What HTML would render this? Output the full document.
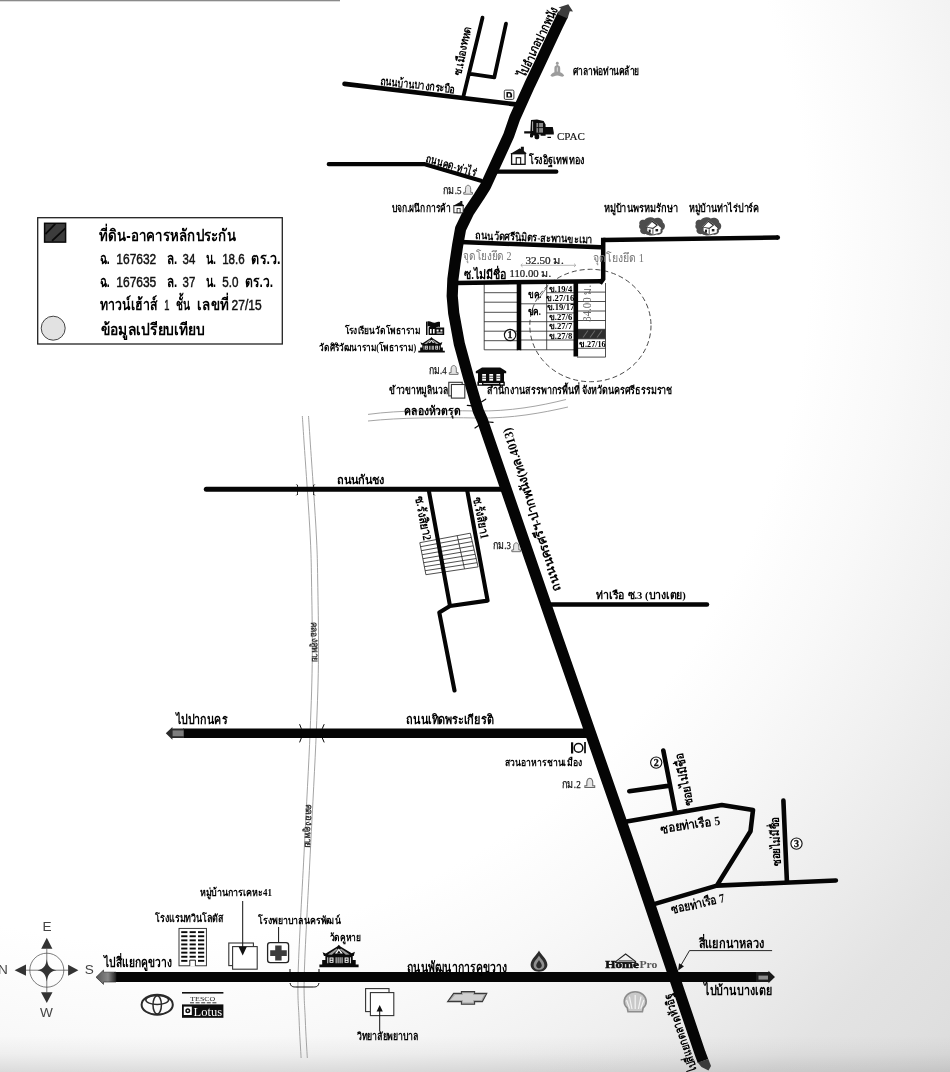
<!DOCTYPE html>
<html lang="th"><head><meta charset="utf-8"><title>แผนที่สังเขป</title>
<style>
html,body{margin:0;padding:0;background:#fff}
body{width:950px;height:1072px;overflow:hidden;font-family:"Liberation Sans",sans-serif}
svg{display:block;filter:grayscale(1) blur(0.3px)}
svg text{font-family:"Liberation Sans",sans-serif}
svg text.sf{font-family:"Liberation Serif",serif}
</style></head><body>
<svg width="950" height="1072" viewBox="0 0 950 1072">
<defs>

<radialGradient id="bg" gradientUnits="userSpaceOnUse" cx="0" cy="0" r="1" gradientTransform="translate(150 250) scale(1120 1176)">
<stop offset="0.000" stop-color="#fff"/><stop offset="0.589" stop-color="#fff"/><stop offset="0.670" stop-color="#f9f9f9"/><stop offset="0.759" stop-color="#f1f1f1"/><stop offset="0.830" stop-color="#eaeaea"/><stop offset="0.893" stop-color="#e3e3e3"/><stop offset="0.946" stop-color="#e0e0e0"/><stop offset="1.000" stop-color="#dcdcdc"/>
</radialGradient>
<linearGradient id="bot" x1="0" x2="0" y1="0" y2="1"><stop offset="0" stop-color="#000" stop-opacity="0"/><stop offset="0.5" stop-color="#000" stop-opacity="0.035"/><stop offset="1" stop-color="#000" stop-opacity="0.11"/></linearGradient>
<linearGradient id="arrL" x1="0" x2="1" y1="0" y2="0"><stop offset="0" stop-color="#555"/><stop offset="0.6" stop-color="#888"/><stop offset="1" stop-color="#222"/></linearGradient>
<pattern id="hatch" width="5" height="5" patternUnits="userSpaceOnUse" patternTransform="rotate(-45)"><rect width="5" height="5" fill="#1c1c1c"/><rect width="5" height="1.2" fill="#555"/></pattern>
</defs>
<rect width="950" height="1072" fill="url(#bg)"/>
<rect x="0" y="1036" width="950" height="36" fill="url(#bot)"/>
<rect x="0" y="0" width="340" height="1.3" fill="#8a8a8a"/>
<g fill="none" stroke="#9a9a9a" stroke-width="0.9">
<path d="M302.3,416.0 C302.6,420.0 303.1,427.8 303.9,440.0 C304.7,452.2 306.2,472.7 307.3,489.4 C308.4,506.1 309.7,524.9 310.4,540.0 C311.1,555.1 311.2,560.8 311.5,580.0 C311.8,599.2 312.5,629.7 312.3,655.0 C312.1,680.3 311.4,700.1 310.1,732.0 C308.8,763.9 306.4,806.7 304.4,846.5 C302.4,886.3 299.1,941.8 298.2,970.7 C297.3,999.6 298.6,1005.5 299.1,1020.0 C299.6,1034.5 300.8,1051.7 301.1,1058.0"/>
<path d="M308.5,416.0 C308.8,420.0 309.3,427.8 310.1,440.0 C310.9,452.2 312.4,472.7 313.5,489.4 C314.6,506.1 315.9,524.9 316.6,540.0 C317.3,555.1 317.4,560.8 317.7,580.0 C318.0,599.2 318.7,629.7 318.5,655.0 C318.3,680.3 317.6,700.1 316.3,732.0 C315.0,763.9 312.6,806.7 310.6,846.5 C308.6,886.3 305.3,941.8 304.4,970.7 C303.5,999.6 304.8,1005.5 305.3,1020.0 C305.8,1034.5 307.0,1051.7 307.3,1058.0"/>
<path d="M368,414.4 C400,410 440,410.4 476,411 C510,411.5 540,406 566,399.5"/>
<path d="M368,421 C400,417.6 440,417.3 478,418 C512,418.5 542,413 568,407"/>
</g>
<g fill="none" stroke="#222" stroke-width="0.8">
<path d="M484.2,283 V349.8 M484.2,292.7 H518 M484.2,302.2 H518 M484.2,312.3 H518 M484.2,321.7 H518 M484.2,331.2 H518 M484.2,340.7 H518 M484.2,349.8 H518"/>
<path d="M546.7,283 V349.8 M546.7,292.7 H575 M546.7,303.4 H575 M546.7,312.9 H575 M546.7,321.7 H575 M546.7,331.2 H575 M546.7,340 H575 M546.7,349.8 H575 M520,303.8 H546.7 M520,321.7 H546.7 M520,331.2 H546.7 M520,340 H546.7 M520,349.8 H546.7"/>
<path d="M605.5,283 V357.1 M577,292.1 H605.5 M577,301.5 H605.5 M577,311 H605.5 M577,320.5 H605.5 M577,329.3 H605.5 M577,338.8 H605.5 M577,348.3 H605.5 M577,357.1 H605.5"/>
</g>
<rect x="578" y="329.3" width="27.5" height="9.5" fill="#2e2e2e"/>
<path d="M583,337.5 l5,-7 M590,337.5 l5,-7 M597,337.5 l5,-7" stroke="#666" stroke-width="1.1" fill="none"/>
<path d="M537.8,300 L547.5,286.5" stroke="#333" stroke-width="0.6" fill="none"/>
<path d="M521,265.3 H575.6 M522.6,263.6 L520.8,265.3 L522.6,267 M574,263.6 L575.8,265.3 L574,267" stroke="#8a8a8a" stroke-width="0.6" fill="none"/>
<path d="M419.8,542.7 L470.3,533.2 M420.6,546.7 L471.3,537.4 M421.3,550.7 L472.2,541.6 M422.1,554.7 L473.2,545.8 M422.9,558.7 L474.2,550.0 M423.6,562.7 L475.2,554.3 M424.4,566.7 L476.2,558.5 M425.1,570.7 L477.1,562.7 M425.9,574.7 L478.1,566.9 M419.8,542.7 L425.9,574.7 M457.2,535.7 L464.5,568.9 M470.3,533.2 L478.1,566.9 " fill="none" stroke="#222" stroke-width="0.8"/>
<ellipse cx="590.4" cy="325.5" rx="60.6" ry="56.2" fill="none" stroke="#333" stroke-width="0.9" stroke-dasharray="5 3"/>
<g fill="none" stroke="#050505" stroke-linecap="round" stroke-linejoin="round">
<path d="M344.5,83.9 L516,104.4" stroke-width="4.6"/>
<path d="M482.5,17.7 L463.5,96 M506,23.6 L494.3,77.3 L470.5,73.8" stroke-width="3.8"/>
<path d="M328.8,164.2 L424.9,164.2 L481,180.8 M495,171.7 L556.3,171.7" stroke-width="4.3"/>
<path d="M460,242 L601,247.2 M603.2,239.9 L778,237.6 M456,282.9 L601,281.3" stroke-width="4.5" stroke-linecap="butt"/>
<path d="M603.2,237.7 V279 L600,283.5" stroke-width="4.5" stroke-linecap="butt" stroke-linejoin="miter"/>
<circle cx="777.8" cy="237.6" r="2.25" fill="#050505" stroke="none"/>
<path d="M519,283 V350.3 M575.8,283 V356.5" stroke-width="4.6" stroke-linecap="butt"/>
<path d="M206.3,489.3 H507" stroke-width="5"/>
<path d="M428.8,490.5 L450,606 M467.2,490.5 L487.6,600.6 L450,606 L439.3,612.6 L454.5,690.5" stroke-width="4.1"/>
<path d="M548,604.6 H707" stroke-width="4.5"/>
<path d="M183,733.2 H592" stroke-width="9.5" stroke-linecap="butt"/>
<path d="M114,977 H758" stroke-width="10" stroke-linecap="butt"/>
<path d="M626.7,821.4 L721.8,805 L753,810 L750.5,831.3 L716.8,885.6 M654.1,904.1 L716.8,885.6 L835.9,880.5 M663.3,750.5 L675.3,812.1 M629.3,791.3 L669.8,785.6 M783.4,800.6 L786.9,881.3" stroke-width="4.6"/>
<path d="M563.2,14 L557.7,25.3 L538,67.4 L529.6,85 L514.8,117.9 L508.7,135.5 L485.6,186 L479,196.5 L468.8,211.8 L460.6,228.7 L457.6,245.5 L455.1,262.4 L452.9,279.2 L452.2,296 L453.7,312.9 L459.3,343.7 L468.5,377.4 L478.3,411 L482.5,420.5 L522.9,537.9 L558.1,640 L596.4,750 L634.7,860 L665.8,952 L700,1053 L703,1061" stroke-width="11.2" stroke-linecap="butt"/>
</g>
<path d="M568.3,4.2 L573,11.6 L569.8,11.2 L567.5,18.5 L557.3,14 L561,8.6 L558.5,7.5 Z" fill="#3c3c3c"/>
<path d="M697.7,1062.6 L708.3,1059 L711,1066 L708.5,1070.5 L701.5,1067 Z" fill="#3a3a3a"/>
<path d="M165.8,733.3 L172.4,727 L172.4,728.6 L184,728.6 L184,738 L172.4,738 L172.4,739.8 Z" fill="#2a2a2a"/><rect x="172.6" y="730.4" width="11" height="5.8" fill="#7d7d7d"/>
<path d="M96,977.2 L103.5,970 L103.5,972.2 L116,972.2 L116,982 L103.5,982 L103.5,984.4 Z" fill="url(#arrL)" stroke="#222" stroke-width="0.6"/>
<path d="M775,977 L768.5,970.8 L768.5,972 L756,972 L756,982 L768.5,982 L768.5,983.2 Z" fill="#1a1a1a"/><rect x="758.5" y="975.6" width="9.5" height="4" fill="#8a8a8a"/>
<g fill="none" stroke="#050505" stroke-width="1">
<path d="M301.4,728.8 L299.6,724.2 M322.2,728.8 L324.2,724.2 M301.4,737.8 L299.6,742.4 M322.2,737.8 L324.2,742.4" stroke-width="1"/>
<path d="M290,969 V972 M319,969 V972 M290,983 C291,987 293,987 297,987 H312 C316,987 318,987 319,983"/>
<path d="M297.5,484.8 V495 M313.6,484.8 V495 M296.3,484.4 L297.5,485.6 M296.3,495.4 L297.5,494.2 M314.8,484.4 L313.6,485.6 M314.8,495.4 L313.6,494.2" stroke-width="0.8"/>
<path d="M481.7,401.8 L485.7,399.2 M472.4,405.9 L467.3,405.3 M488.7,422 L493.1,422.3 M478.6,425.6 L475,428" stroke-width="1.2" stroke-linecap="round"/>
</g>
<path transform="translate(463.3 184.8) scale(1.000 1.000)" d="M0.4,9.4 H9.2 V7.6 H7.4 C7.4,5.6 7.6,4 7.2,2.6 C6.8,1.2 5.8,0.5 4.8,0.5 C3.8,0.5 2.8,1.2 2.4,2.6 C2,4 2.2,5.6 2.2,7.6 H0.4 Z" fill="#e4e4e4" stroke="#666" stroke-width="0.9"/>
<path transform="translate(448.9 365) scale(1.000 1.000)" d="M0.4,9.4 H9.2 V7.6 H7.4 C7.4,5.6 7.6,4 7.2,2.6 C6.8,1.2 5.8,0.5 4.8,0.5 C3.8,0.5 2.8,1.2 2.4,2.6 C2,4 2.2,5.6 2.2,7.6 H0.4 Z" fill="#e4e4e4" stroke="#666" stroke-width="0.9"/>
<path transform="translate(511.4 542.3) scale(1.000 1.000)" d="M0.4,9.4 H9.2 V7.6 H7.4 C7.4,5.6 7.6,4 7.2,2.6 C6.8,1.2 5.8,0.5 4.8,0.5 C3.8,0.5 2.8,1.2 2.4,2.6 C2,4 2.2,5.6 2.2,7.6 H0.4 Z" fill="#e4e4e4" stroke="#666" stroke-width="0.9"/>
<path transform="translate(584.4 777.8) scale(1.125 1.041)" d="M0.4,9.4 H9.2 V7.6 H7.4 C7.4,5.6 7.6,4 7.2,2.6 C6.8,1.2 5.8,0.5 4.8,0.5 C3.8,0.5 2.8,1.2 2.4,2.6 C2,4 2.2,5.6 2.2,7.6 H0.4 Z" fill="#e4e4e4" stroke="#666" stroke-width="0.9"/>
<g transform="translate(510.2 146.7) scale(1.006 1.000)"><rect x="1.4" y="7" width="13.4" height="10.6" fill="#fff" stroke="#111" stroke-width="1.3"/><path d="M0,7.3 L9.6,1.6 L10.6,2.2 V0 H13.6 V4.2 L16,6.2 V7.3 Z" fill="#111"/><rect x="6" y="11" width="4.4" height="6.6" fill="#fff" stroke="#111" stroke-width="1.1"/></g>
<g transform="translate(452.9 201.1) scale(0.694 0.667)"><rect x="1.4" y="7" width="13.4" height="10.6" fill="#fff" stroke="#111" stroke-width="1.3"/><path d="M0,7.3 L9.6,1.6 L10.6,2.2 V0 H13.6 V4.2 L16,6.2 V7.3 Z" fill="#111"/><rect x="6" y="11" width="4.4" height="6.6" fill="#fff" stroke="#111" stroke-width="1.1"/></g>
<rect x="504.3" y="90.1" width="9.6" height="9.3" rx="1.3" fill="#fff" stroke="#222" stroke-width="0.9"/><path d="M506.4,92 H510 C512.4,92.4 512.6,96.8 511.6,97.6 H506.4 Z M508,93.4 V96.4 H510 C510.6,95.6 510.5,94.2 509.6,93.4 Z" fill="#111" fill-rule="evenodd"/>
<g fill="#9c9c9c"><circle cx="557.3" cy="63.2" r="1.4"/><path d="M556.4,64.2 H558.2 V65.6 C559.6,65.8 560.2,66.8 560.2,68.2 V72.2 C561.8,72.8 563.4,74 564.2,75.6 C563.6,76.8 562,77 560.4,76.2 C558.4,75.2 556.2,75.2 554.2,76.2 C552.6,77 551,76.8 550.4,75.6 C551.2,74 552.8,72.8 554.4,72.2 V68.2 C554.4,66.8 555,65.8 556.4,65.6 Z"/></g><path d="M557.3,67.4 V71.6" stroke="#e6e6e6" stroke-width="0.9"/>
<g fill="#0b0b0b"><path d="M531,120 L537,119.4 L543.6,121 L545.6,124.6 V127 H552.8 L553.8,132.6 V134.6 H545.6 V135.8 H540.6 V134.4 H538 V135.6 H531.6 V133.4 H524.2 V131.2 H530.4 Z"/><rect x="534.6" y="134" width="4.6" height="5.2" rx="1.6"/><rect x="530" y="133" width="3" height="4.4" rx="1.2"/><rect x="547.4" y="136.8" width="3.6" height="1.2"/><path d="M536.4,123 H543 V132.6 H536.4 Z" fill="#8a8a8a"/><path d="M538.6,123 V132.6 M536.4,127.6 H543" stroke="#0b0b0b" stroke-width="0.9"/><path d="M532.6,121.4 V131" stroke="#fff" stroke-width="0.7"/></g>
<text class="sf" x="556.9" y="140.3" font-size="11.2" textLength="27.9" lengthAdjust="spacingAndGlyphs" fill="#111" stroke="#111" stroke-width="0.15">CPAC</text>
<g transform="translate(638.5 216.4)"><path d="M1,8 C0,5 3,2.6 6,3.6 C8,0.6 13,0 16,2 C20,0.4 24.5,2.6 24.4,6 C27.4,7.6 27,12.4 24,13.6 C25,16.6 21.6,19 18.4,18 C15,19.6 9.6,19.4 7.4,17.6 C3.6,18.4 0.6,15.6 2,12.6 C0.4,11.6 0.2,9.4 1,8 Z" fill="#4d4d4d"/><path d="M7.6,10.4 L13.6,4 L19.2,8.2 L23.4,11.6 L22,12.6 V16 L14.4,18 L8.8,14.6 V11.2 Z" fill="#fff"/><path d="M7.2,10.8 L13.6,4 L19.6,8.6 L14.6,12.6 Z" fill="#2a2a2a"/><path d="M8.6,10.6 L13.5,5.6 L17.8,8.8 L14.4,11.4 Z" fill="#fff"/><path d="M14.4,12.8 V18 M19.8,8.6 L23.6,11.8" stroke="#222" stroke-width="0.8" fill="none"/><rect x="10.2" y="13.2" width="2" height="3" fill="#222"/><rect x="17" y="12.6" width="2.6" height="2.4" fill="#222"/></g>
<g transform="translate(694.8 216.4)"><path d="M1,8 C0,5 3,2.6 6,3.6 C8,0.6 13,0 16,2 C20,0.4 24.5,2.6 24.4,6 C27.4,7.6 27,12.4 24,13.6 C25,16.6 21.6,19 18.4,18 C15,19.6 9.6,19.4 7.4,17.6 C3.6,18.4 0.6,15.6 2,12.6 C0.4,11.6 0.2,9.4 1,8 Z" fill="#4d4d4d"/><path d="M7.6,10.4 L13.6,4 L19.2,8.2 L23.4,11.6 L22,12.6 V16 L14.4,18 L8.8,14.6 V11.2 Z" fill="#fff"/><path d="M7.2,10.8 L13.6,4 L19.6,8.6 L14.6,12.6 Z" fill="#2a2a2a"/><path d="M8.6,10.6 L13.5,5.6 L17.8,8.8 L14.4,11.4 Z" fill="#fff"/><path d="M14.4,12.8 V18 M19.8,8.6 L23.6,11.8" stroke="#222" stroke-width="0.8" fill="none"/><rect x="10.2" y="13.2" width="2" height="3" fill="#222"/><rect x="17" y="12.6" width="2.6" height="2.4" fill="#222"/></g>
<g fill="#0a0a0a"><rect x="426" y="321.6" width="1.5" height="13.4"/><path d="M427.5,321.4 C430.5,320.2 432.6,323.6 435.6,322.4 C437.4,321.6 438.6,321.4 440,322 V327.2 C438.6,326.6 437.4,326.8 435.6,327.6 C432.6,328.8 430.5,325.4 427.5,326.6 Z"/><path d="M428.6,327.6 L432.6,324.6 L436.4,327.6 H444.2 V335 H428.6 Z"/><path d="M430,329 h1.6 v4.4 h-1.6z M433,329 h1.6 v4.4 h-1.6z M436.6,329.4 h2 v2 h-2z M440.4,329.4 h2 v2 h-2z M436.6,332.4 h6 v1.2 h-6z" fill="#fff"/></g>
<g transform="translate(418.3 337.1) scale(0.671 0.692)" fill="#0a0a0a"><path d="M19.6,0 L21.2,1.6 L32.6,8.4 L35.8,7 L34.6,11.2 H33.6 V15.2 H36.6 V19.8 H39.5 V22.4 H0 V19.8 H2.8 V15.2 H6 V11.2 H4.6 L3.2,7.4 L6.4,8.8 L18,1.6 Z"/><path d="M8.6,9.8 L17.4,3.6 L18.6,4.8 L12.6,10 Z M30.6,9.8 L21.8,3.6 L20.6,4.8 L26.6,10 Z" fill="#9a9a9a"/><path d="M19.6,3.8 L23.6,8.6 H15.6 Z" fill="#fff"/><path d="M19.6,5.6 L21.6,8.6 H17.6 Z" fill="#0a0a0a"/><path d="M8,12.4 h0.9 v6 h-0.9z M10.2,12.6 h4 v5.4 h-4z M16.4,12.4 h0.9 v6 h-0.9z M18.4,12.4 h0.9 v6 h-0.9z M20.4,12.4 h0.9 v6 h-0.9z M22.4,12.4 h0.9 v6 h-0.9z M25.4,12.6 h4 v5.4 h-4z M30.8,12.4 h0.9 v6 h-0.9z" fill="#fff"/><path d="M11.2,13.6 h2 v1.4 h-2z M11.2,16 h2 v1.2 h-2z M26.4,13.6 h2 v1.4 h-2z M26.4,16 h2 v1.2 h-2z"/></g>
<g fill="#0a0a0a"><path d="M482,367.6 H500.2 L506.2,371.2 V373.2 H475.8 V371.2 Z"/><rect x="478" y="373" width="26" height="9"/><rect x="477.4" y="381.6" width="27.4" height="4.2"/><path d="M482.2,374 h3.8 v6.8 h-3.8z M489.3,374 h3.8 v6.8 h-3.8z M496.4,374 h3.8 v6.8 h-3.8z M479,383 h3 v1.6 h-3z M500.4,383 h3 v1.6 h-3z M483.4,383.2 h15.6 v0.9 h-15.6z" fill="#fff"/><path d="M482.2,376.2 h3.8 M482.2,378.4 h3.8 M489.3,376.2 h3.8 M489.3,378.4 h3.8 M496.4,376.2 h3.8 M496.4,378.4 h3.8" stroke="#0a0a0a" stroke-width="0.7"/></g>
<rect x="448.8" y="382.3" width="13.4" height="13.6" fill="#fff" stroke="#333" stroke-width="1.1"/><rect x="451.40000000000003" y="384.5" width="13.4" height="13.6" fill="#fff" stroke="#333" stroke-width="1.1"/>
<rect x="228.8" y="943" width="24.6" height="22.6" fill="#fff" stroke="#333" stroke-width="1.1"/><rect x="232.60000000000002" y="946.6" width="24.6" height="22.6" fill="#fff" stroke="#333" stroke-width="1.1"/>
<rect x="365.6" y="988.6" width="23.4" height="23" fill="#fff" stroke="#333" stroke-width="1.1"/><rect x="370.40000000000003" y="992.6" width="23.4" height="23" fill="#fff" stroke="#333" stroke-width="1.1"/>
<g stroke="#111" stroke-width="1" fill="#111"><path d="M242.7,901 V948"/><path d="M242.7,955.4 L238.6,946.8 H246.8 Z" stroke="none"/><path d="M278.6,927 V944"/><path d="M278.6,949.4 L275.6,943 H281.6 Z" stroke="none"/><path d="M379.7,1031.5 V1010"/><path d="M379.7,1005 L376.6,1011.6 H382.8 Z" stroke="none"/></g>
<rect x="267.6" y="942.6" width="21" height="20" rx="2.6" fill="#fff" stroke="#222" stroke-width="1.3"/><path d="M275.2,945.6 H281.6 V950.2 H286.8 V956 H281.6 V960.6 H275.2 V956 H270.2 V950.2 H275.2 Z" fill="#3c3c3c"/>
<rect x="179" y="928.4" width="27.4" height="37.4" fill="#fff" stroke="#222" stroke-width="0.9"/><rect x="181.2" y="931.2" width="6.2" height="1.9" fill="#0a0a0a"/><rect x="189.6" y="931.2" width="6.2" height="1.9" fill="#0a0a0a"/><rect x="198" y="931.2" width="6.2" height="1.9" fill="#0a0a0a"/><rect x="181.2" y="935.3" width="6.2" height="1.9" fill="#0a0a0a"/><rect x="189.6" y="935.3" width="6.2" height="1.9" fill="#0a0a0a"/><rect x="198" y="935.3" width="6.2" height="1.9" fill="#0a0a0a"/><rect x="181.2" y="939.4" width="6.2" height="1.9" fill="#0a0a0a"/><rect x="189.6" y="939.4" width="6.2" height="1.9" fill="#0a0a0a"/><rect x="198" y="939.4" width="6.2" height="1.9" fill="#0a0a0a"/><rect x="181.2" y="943.5" width="6.2" height="1.9" fill="#0a0a0a"/><rect x="189.6" y="943.5" width="6.2" height="1.9" fill="#0a0a0a"/><rect x="198" y="943.5" width="6.2" height="1.9" fill="#0a0a0a"/><rect x="181.2" y="947.6" width="6.2" height="1.9" fill="#0a0a0a"/><rect x="189.6" y="947.6" width="6.2" height="1.9" fill="#0a0a0a"/><rect x="198" y="947.6" width="6.2" height="1.9" fill="#0a0a0a"/><rect x="181.2" y="951.7" width="6.2" height="1.9" fill="#0a0a0a"/><rect x="189.6" y="951.7" width="6.2" height="1.9" fill="#0a0a0a"/><rect x="198" y="951.7" width="6.2" height="1.9" fill="#0a0a0a"/><rect x="181.2" y="955.8" width="6.2" height="1.9" fill="#0a0a0a"/><rect x="189.6" y="955.8" width="6.2" height="1.9" fill="#0a0a0a"/><rect x="198" y="955.8" width="6.2" height="1.9" fill="#0a0a0a"/><rect x="181.2" y="959.9" width="6.2" height="1.9" fill="#0a0a0a"/><rect x="189.6" y="959.9" width="6.2" height="1.9" fill="#0a0a0a"/><rect x="198" y="959.9" width="6.2" height="1.9" fill="#0a0a0a"/><rect x="189.8" y="960.2" width="5.6" height="6.4" fill="#fff"/><path d="M189.8,966 V960.2 H195.4 V966" fill="none" stroke="#222" stroke-width="0.9"/>
<g transform="translate(319.4 944.8) scale(0.992 1.000)" fill="#0a0a0a"><path d="M19.6,0 L21.2,1.6 L32.6,8.4 L35.8,7 L34.6,11.2 H33.6 V15.2 H36.6 V19.8 H39.5 V22.4 H0 V19.8 H2.8 V15.2 H6 V11.2 H4.6 L3.2,7.4 L6.4,8.8 L18,1.6 Z"/><path d="M8.6,9.8 L17.4,3.6 L18.6,4.8 L12.6,10 Z M30.6,9.8 L21.8,3.6 L20.6,4.8 L26.6,10 Z" fill="#9a9a9a"/><path d="M19.6,3.8 L23.6,8.6 H15.6 Z" fill="#fff"/><path d="M19.6,5.6 L21.6,8.6 H17.6 Z" fill="#0a0a0a"/><path d="M8,12.4 h0.9 v6 h-0.9z M10.2,12.6 h4 v5.4 h-4z M16.4,12.4 h0.9 v6 h-0.9z M18.4,12.4 h0.9 v6 h-0.9z M20.4,12.4 h0.9 v6 h-0.9z M22.4,12.4 h0.9 v6 h-0.9z M25.4,12.6 h4 v5.4 h-4z M30.8,12.4 h0.9 v6 h-0.9z" fill="#fff"/><path d="M11.2,13.6 h2 v1.4 h-2z M11.2,16 h2 v1.2 h-2z M26.4,13.6 h2 v1.4 h-2z M26.4,16 h2 v1.2 h-2z"/></g>
<g fill="none" stroke="#2a2a2a"><ellipse cx="157.2" cy="1004.7" rx="15.6" ry="10" stroke-width="2"/><ellipse cx="157.2" cy="1004.9" rx="4.2" ry="9.2" stroke-width="1.5"/><ellipse cx="157.2" cy="1000" rx="11.4" ry="4.4" stroke-width="1.5"/></g>
<rect x="182" y="992" width="41.4" height="1.6" fill="#111"/><text class="sf" x="202.8" y="1001.4" font-size="6.4" text-anchor="middle" textLength="25" lengthAdjust="spacingAndGlyphs" fill="#222">TESCO</text><path d="M190,1002.8 h4 m1.6,0 h4 m1.6,0 h4 m1.6,0 h4 m1.6,0 h4" stroke="#333" stroke-width="1"/><rect x="182" y="1004.4" width="41.4" height="13.4" fill="#0d0d0d"/><rect x="183.8" y="1006.6" width="8" height="8.4" fill="#fff"/><circle cx="187.8" cy="1010.8" r="2.5" fill="#0d0d0d"/><circle cx="187.8" cy="1010.8" r="1" fill="#fff"/><text class="sf" x="193.6" y="1015.6" font-size="12" textLength="28.6" lengthAdjust="spacingAndGlyphs" fill="#fff">Lotus</text>
<path d="M453.6,993.4 H461.4 V991.6 H474.6 V993.4 H486.8 L482.4,1001.6 H474.6 V1004.2 H461.4 V1001.6 H447.6 Z" fill="#a6a6a6" stroke="#3a3a3a" stroke-width="1.1"/><path d="M455,995 H462.8 V993.2 H473.2 V995 H484 L481.4,1000 H473.2 V1002.4 H462.8 V1000 H450.4 Z" fill="#cfcfcf"/>
<path d="M539,950.6 C540.6,954.4 547.4,959.2 547.4,964.8 C547.4,969 543.6,971.8 539,971.8 C534.4,971.8 530.6,969 530.6,964.8 C530.6,959.2 537.4,954.4 539,950.6 Z" fill="#2b2b2b"/><path d="M539,955.6 C540,958.2 544.4,961.4 544.4,965.2 C544.4,968 542,969.8 539,969.8 C536,969.8 533.6,968 533.6,965.2 C533.6,961.4 538,958.2 539,955.6 Z" fill="#8f8f8f"/><path d="M539,960 C539.6,961.6 541.8,963.4 541.8,965.6 C541.8,967.2 540.6,968.4 539,968.4 C537.4,968.4 536.2,967.2 536.2,965.6 C536.2,963.4 538.4,961.6 539,960 Z" fill="#2b2b2b"/>
<path d="M615.6,961.6 L625.6,954 L635.6,961.6 V962.4 H615.6 Z" fill="none" stroke="#222" stroke-width="1.1"/><path d="M618.6,960.8 H632.6" stroke="#222" stroke-width="0.8"/><text class="sf" x="605.3" y="968.3" font-size="10.8" font-weight="bold" textLength="33.6" lengthAdjust="spacingAndGlyphs" fill="#111" stroke="#111" stroke-width="0.55">Home</text><text class="sf" x="639.4" y="968.3" font-size="10.8" font-weight="bold" textLength="18" lengthAdjust="spacingAndGlyphs" fill="#555">Pro</text>
<path d="M635.2,991.8 C641.4,991.8 646.2,996.2 646.2,1001.6 C646.2,1004.4 645,1006.4 643.2,1007.8 L642.4,1011.8 H628 L627.2,1007.8 C625.4,1006.4 624.2,1004.4 624.2,1001.6 C624.2,996.2 629,991.8 635.2,991.8 Z" fill="#c9c9c9" stroke="#8d8d8d" stroke-width="1.6"/><path d="M635.2,1009 V995 M632,1009 L629.4,996.6 M638.4,1009 L641,996.6 M629.6,1008.6 L626.6,1000 M640.8,1008.6 L643.8,1000" stroke="#f4f4f4" stroke-width="1.2" fill="none"/>
<g fill="none" stroke="#0a0a0a"><circle cx="578.5" cy="747.9" r="4.3" stroke-width="1.5"/><path d="M572.1,742.3 V753.5" stroke-width="2.2"/><path d="M585,742 V753.2" stroke-width="1.7"/></g>
<g stroke="#444" stroke-width="0.7" fill="none"><circle cx="46.8" cy="970.2" r="17"/><path d="M25.8,970.2 H68.3 M46.8,948.6 V992.3"/></g><path d="M46.8,959.2 C47.8,966 50,969 56.5,970.2 C50,971.4 47.8,974.4 46.8,981.6 C45.8,974.4 43.6,971.4 37.5,970.2 C43.6,969 45.8,966 46.8,959.2 Z" fill="#333"/><path d="M46.8,937.8 L52.4,948.8 H41.2 Z M46.8,1003 L52.5,992.2 H41 Z M14.6,970.2 L26,964.6 V975.8 Z M78.4,970.2 L68.1,964.8 V975.8 Z" fill="#333"/><g font-size="13.6" fill="#444" text-anchor="middle"><text x="47" y="931">E</text><text x="46.5" y="1017">W</text><text x="3" y="974">N</text><text x="89.3" y="974">S</text></g>
<circle cx="510.1" cy="335" r="5.7" fill="#fff" stroke="#111" stroke-width="1.15"/><text class="sf" x="510.1" y="338.3" font-size="10" font-weight="bold" text-anchor="middle" fill="#111" stroke="#111" stroke-width="0.3">1</text>
<circle cx="656.2" cy="762.6" r="5.6" fill="#fff" stroke="#111" stroke-width="1.15"/><text class="sf" x="656.2" y="765.9" font-size="10" font-weight="bold" text-anchor="middle" fill="#111" stroke="#111" stroke-width="0.3">2</text>
<circle cx="796.5" cy="843.6" r="5.6" fill="#fff" stroke="#111" stroke-width="1.15"/><text class="sf" x="796.5" y="846.9" font-size="10" font-weight="bold" text-anchor="middle" fill="#111" stroke="#111" stroke-width="0.3">3</text>
<rect x="37.7" y="217.7" width="244.6" height="126.3" fill="#fff" stroke="#222" stroke-width="1.3"/>
<rect x="44.6" y="223.3" width="21" height="18.8" fill="#3c3c3c" stroke="#0a0a0a" stroke-width="1.5"/><path d="M45.4,234.2 L55.3,223.9 M52,240.9 L65.2,228.4" stroke="#0a0a0a" stroke-width="1.8" fill="none"/>
<circle cx="53.2" cy="328.2" r="12" fill="#e2e2e2" stroke="#444" stroke-width="1"/>
<text x="99.3" y="241.0" font-size="16.2" font-weight="bold" textLength="136.4" lengthAdjust="spacingAndGlyphs" fill="#000">ที่ดิน-อาคารหลักประกัน</text>
<text x="99.5" y="264.2" font-size="16.2" font-weight="bold" textLength="10.2" lengthAdjust="spacingAndGlyphs" fill="#000">ฉ.</text>
<text x="116.3" y="264.2" font-size="14.4" textLength="40.0" lengthAdjust="spacingAndGlyphs" fill="#111" stroke="#111" stroke-width="0.45">167632</text>
<text x="166.8" y="264.2" font-size="16.2" font-weight="bold" textLength="10.4" lengthAdjust="spacingAndGlyphs" fill="#000">ล.</text>
<text x="182.6" y="264.2" font-size="14.4" textLength="12.7" lengthAdjust="spacingAndGlyphs" fill="#111" stroke="#111" stroke-width="0.45">34</text>
<text x="205.8" y="264.2" font-size="16.2" font-weight="bold" textLength="10.3" lengthAdjust="spacingAndGlyphs" fill="#000">น.</text>
<text x="222.2" y="264.2" font-size="14.4" textLength="22.5" lengthAdjust="spacingAndGlyphs" fill="#111" stroke="#111" stroke-width="0.45">18.6</text>
<text x="251.1" y="264.2" font-size="16.2" font-weight="bold" textLength="29.3" lengthAdjust="spacingAndGlyphs" fill="#000">ตร.ว.</text>
<text x="99.5" y="286.5" font-size="16.2" font-weight="bold" textLength="10.2" lengthAdjust="spacingAndGlyphs" fill="#000">ฉ.</text>
<text x="116.3" y="286.5" font-size="14.4" textLength="40.0" lengthAdjust="spacingAndGlyphs" fill="#111" stroke="#111" stroke-width="0.45">167635</text>
<text x="166.8" y="286.5" font-size="16.2" font-weight="bold" textLength="10.4" lengthAdjust="spacingAndGlyphs" fill="#000">ล.</text>
<text x="182.6" y="286.5" font-size="14.4" textLength="12.7" lengthAdjust="spacingAndGlyphs" fill="#111" stroke="#111" stroke-width="0.45">37</text>
<text x="205.8" y="286.5" font-size="16.2" font-weight="bold" textLength="10.3" lengthAdjust="spacingAndGlyphs" fill="#000">น.</text>
<text x="222.2" y="286.5" font-size="14.4" textLength="16.2" lengthAdjust="spacingAndGlyphs" fill="#111" stroke="#111" stroke-width="0.45">5.0</text>
<text x="244.7" y="286.5" font-size="16.2" font-weight="bold" textLength="28.3" lengthAdjust="spacingAndGlyphs" fill="#000">ตร.ว.</text>
<text x="100.1" y="309.5" font-size="16.2" font-weight="bold" textLength="57.2" lengthAdjust="spacingAndGlyphs" fill="#000">ทาวน์เฮ้าส์</text>
<text x="164.2" y="309.5" font-size="14.4" textLength="5.2" lengthAdjust="spacingAndGlyphs" fill="#111" stroke="#111" stroke-width="0.45">1</text>
<text x="176.3" y="309.5" font-size="16.2" font-weight="bold" textLength="14.0" lengthAdjust="spacingAndGlyphs" fill="#000">ชั้น</text>
<text x="197.4" y="309.5" font-size="16.2" font-weight="bold" textLength="31.4" lengthAdjust="spacingAndGlyphs" fill="#000">เลขที่</text>
<text x="231.5" y="309.5" font-size="14.4" textLength="30.1" lengthAdjust="spacingAndGlyphs" fill="#111" stroke="#111" stroke-width="0.45">27/15</text>
<text x="100.5" y="334.8" font-size="16.2" font-weight="bold" textLength="104.2" lengthAdjust="spacingAndGlyphs" fill="#000">ข้อมูลเปรียบเทียบ</text>
<text class="sf" transform="translate(461.3 76.2) rotate(-78.6)" x="0" y="0" font-size="11.2" font-weight="bold" textLength="49.6" lengthAdjust="spacingAndGlyphs" fill="#000">ซ.เมืองทหด</text>
<text class="sf" transform="translate(525.0 78.4) rotate(-64.5)" x="0" y="0" font-size="12.4" font-weight="bold" textLength="76.6" lengthAdjust="spacingAndGlyphs" fill="#000">ไปอำเภอปากพนัง</text>
<text class="sf" transform="translate(379.9 84.5) rotate(6.6)" x="0" y="0" font-size="11.6" font-weight="bold" textLength="75.1" lengthAdjust="spacingAndGlyphs" fill="#000">ถนนบ้านบางกระบือ</text>
<text class="sf" x="573.0" y="75.4" font-size="11.2" font-weight="bold" textLength="66.6" lengthAdjust="spacingAndGlyphs" fill="#000">ศาลาพ่อท่านคล้าย</text>
<text class="sf" x="529.0" y="163.5" font-size="11.6" font-weight="bold" textLength="55.8" lengthAdjust="spacingAndGlyphs" fill="#000">โรงอิฐเทพทอง</text>
<text class="sf" transform="translate(425.4 161.6) rotate(17.0)" x="0" y="0" font-size="11.6" font-weight="bold" textLength="51.9" lengthAdjust="spacingAndGlyphs" fill="#000">ถนนคด-ท่าไร่</text>
<text class="sf" x="442.9" y="193.9" font-size="11.4" textLength="18.6" lengthAdjust="spacingAndGlyphs" fill="#111" stroke="#111" stroke-width="0.25">กม.5</text>
<text class="sf" x="391.8" y="212.4" font-size="11" font-weight="bold" textLength="58.4" lengthAdjust="spacingAndGlyphs" fill="#000">บจก.ผนึกการค้า</text>
<text class="sf" x="603.9" y="211.5" font-size="11" font-weight="bold" textLength="73.7" lengthAdjust="spacingAndGlyphs" fill="#000">หมู่บ้านพรหมรักษา</text>
<text class="sf" x="688.9" y="211.5" font-size="11" font-weight="bold" textLength="70.1" lengthAdjust="spacingAndGlyphs" fill="#000">หมู่บ้านท่าไร่ปาร์ค</text>
<text class="sf" transform="translate(475.3 239.2) rotate(2.1)" x="0" y="0" font-size="11.2" font-weight="bold" textLength="117.1" lengthAdjust="spacingAndGlyphs" fill="#000">ถนนวัดศรีนิมิตร-สะพานขะเมา</text>
<text class="sf" x="463.2" y="259.9" font-size="12" textLength="48.3" lengthAdjust="spacingAndGlyphs" fill="#777">จุดโยงยึด 2</text>
<text class="sf" x="593.1" y="262.3" font-size="12" textLength="50.9" lengthAdjust="spacingAndGlyphs" fill="#777">จุดโยงยึด 1</text>
<text class="sf" x="525.5" y="264.0" font-size="10.3" textLength="38.4" lengthAdjust="spacingAndGlyphs" fill="#222" stroke="#222" stroke-width="0.22">32.50 ม.</text>
<text class="sf" x="463.7" y="279.2" font-size="12.7" font-weight="bold" textLength="43.2" lengthAdjust="spacingAndGlyphs" fill="#000">ซ.ไม่มีชื่อ</text>
<text class="sf" x="509.5" y="277.0" font-size="10.4" textLength="41.8" lengthAdjust="spacingAndGlyphs" fill="#222" stroke="#222" stroke-width="0.22">110.00 ม.</text>
<text class="sf" x="528.4" y="297.7" font-size="10.7" font-weight="bold" textLength="13.0" lengthAdjust="spacingAndGlyphs" fill="#000">ขค.</text>
<text class="sf" x="527.8" y="314.8" font-size="10.7" font-weight="bold" textLength="13.0" lengthAdjust="spacingAndGlyphs" fill="#000">ขค.</text>
<text class="sf" x="548.6" y="291.7" font-size="8.4" font-weight="bold" textLength="23.6" lengthAdjust="spacingAndGlyphs" fill="#000">ข.19/4</text>
<text class="sf" x="546.3" y="300.9" font-size="8.4" font-weight="bold" textLength="27.9" lengthAdjust="spacingAndGlyphs" fill="#000">ข.27/16</text>
<text class="sf" x="546.5" y="310.4" font-size="8.4" font-weight="bold" textLength="27.7" lengthAdjust="spacingAndGlyphs" fill="#000">ข.19/17</text>
<text class="sf" x="548.6" y="319.8" font-size="8.4" font-weight="bold" textLength="23.6" lengthAdjust="spacingAndGlyphs" fill="#000">ข.27/6</text>
<text class="sf" x="548.6" y="329.3" font-size="8.4" font-weight="bold" textLength="23.6" lengthAdjust="spacingAndGlyphs" fill="#000">ข.27/7</text>
<text class="sf" x="548.6" y="338.5" font-size="8.4" font-weight="bold" textLength="23.7" lengthAdjust="spacingAndGlyphs" fill="#000">ข.27/8</text>
<text class="sf" x="579.2" y="347.2" font-size="8.4" font-weight="bold" textLength="26.5" lengthAdjust="spacingAndGlyphs" fill="#000">ข.27/16</text>
<text class="sf" transform="translate(590.6 321.7) rotate(-90.0)" x="0" y="0" font-size="12" textLength="36.8" lengthAdjust="spacingAndGlyphs" fill="#666">34.00 ม.</text>
<text class="sf" x="345.1" y="333.9" font-size="10.1" font-weight="bold" textLength="75.3" lengthAdjust="spacingAndGlyphs" fill="#000">โรงเรียนวัดโพธาราม</text>
<text class="sf" x="319.1" y="351.1" font-size="10.1" font-weight="bold" textLength="97.1" lengthAdjust="spacingAndGlyphs" fill="#000">วัดศิริวัฒนาราม(โพธาราม)</text>
<text class="sf" x="428.6" y="373.7" font-size="11.4" textLength="18.0" lengthAdjust="spacingAndGlyphs" fill="#111" stroke="#111" stroke-width="0.25">กม.4</text>
<text class="sf" x="389.4" y="393.7" font-size="11" font-weight="bold" textLength="59.0" lengthAdjust="spacingAndGlyphs" fill="#000">ข้าวขาหมูลินวล</text>
<text class="sf" x="487.1" y="393.7" font-size="11" font-weight="bold" textLength="185.0" lengthAdjust="spacingAndGlyphs" fill="#000">สำนักงานสรรพากรพื้นที่ จังหวัดนครศรีธรรมราช</text>
<text class="sf" x="404.2" y="415.3" font-size="12.4" font-weight="bold" textLength="56.3" lengthAdjust="spacingAndGlyphs" fill="#000">คลองหัวตรุด</text>
<text class="sf" x="336.6" y="483.7" font-size="12.4" font-weight="bold" textLength="47.9" lengthAdjust="spacingAndGlyphs" fill="#000">ถนนกันชง</text>
<text class="sf" transform="translate(415.4 497.4) rotate(79.4)" x="0" y="0" font-size="12.4" font-weight="bold" textLength="44.4" lengthAdjust="spacingAndGlyphs" fill="#000">ซ.รังสิยา2</text>
<text class="sf" transform="translate(473.0 497.9) rotate(79.0)" x="0" y="0" font-size="12.4" font-weight="bold" textLength="42.3" lengthAdjust="spacingAndGlyphs" fill="#000">ซ.รังสิยา1</text>
<text class="sf" x="492.6" y="548.9" font-size="11.4" textLength="18.4" lengthAdjust="spacingAndGlyphs" fill="#111" stroke="#111" stroke-width="0.25">กม.3</text>
<text class="sf" transform="translate(561.2 589.5) rotate(-107.3)" x="0" y="0" font-size="12.7" font-weight="bold" textLength="170.2" lengthAdjust="spacingAndGlyphs" fill="#000">ถนนนครศรีฯ-ปากพนัง(ทล.4013)</text>
<text class="sf" x="596.2" y="599.4" font-size="11" font-weight="bold" textLength="89.5" lengthAdjust="spacingAndGlyphs" fill="#000">ท่าเรือ ซ.3 (บางเตย)</text>
<text class="sf" transform="translate(311.4 621.6) rotate(89.5)" x="0" y="0" font-size="9.7" font-weight="bold" textLength="41.0" lengthAdjust="spacingAndGlyphs" fill="#333">คลองคูพาย</text>
<text class="sf" transform="translate(306.4 803.6) rotate(92.7)" x="0" y="0" font-size="9.7" font-weight="bold" textLength="44.7" lengthAdjust="spacingAndGlyphs" fill="#333">คลองคูพาย</text>
<text class="sf" x="176.3" y="724.2" font-size="12.9" font-weight="bold" textLength="51.0" lengthAdjust="spacingAndGlyphs" fill="#000">ไปปากนคร</text>
<text class="sf" x="406.2" y="724.0" font-size="12.9" font-weight="bold" textLength="87.1" lengthAdjust="spacingAndGlyphs" fill="#000">ถนนเทิดพระเกียรติ</text>
<text class="sf" x="505.2" y="766.3" font-size="10.3" font-weight="bold" textLength="76.6" lengthAdjust="spacingAndGlyphs" fill="#000">สวนอาหารชานเมือง</text>
<text class="sf" x="561.9" y="787.9" font-size="11.4" textLength="18.8" lengthAdjust="spacingAndGlyphs" fill="#111" stroke="#111" stroke-width="0.25">กม.2</text>
<text class="sf" transform="translate(660.6 833.6) rotate(-8.6)" x="0" y="0" font-size="12.7" font-weight="bold" textLength="60.7" lengthAdjust="spacingAndGlyphs" fill="#000">ซอยท่าเรือ 5</text>
<text class="sf" transform="translate(671.6 913.9) rotate(-12.6)" x="0" y="0" font-size="12.7" font-weight="bold" textLength="55.1" lengthAdjust="spacingAndGlyphs" fill="#000">ซอยท่าเรือ 7</text>
<text class="sf" transform="translate(693.0 805.3) rotate(-100.4)" x="0" y="0" font-size="12" font-weight="bold" textLength="53.7" lengthAdjust="spacingAndGlyphs" fill="#000">ซอยไม่มีชื่อ</text>
<text class="sf" transform="translate(780.6 866.0) rotate(-92.6)" x="0" y="0" font-size="12" font-weight="bold" textLength="49.2" lengthAdjust="spacingAndGlyphs" fill="#000">ซอยไม่มีชื่อ</text>
<text class="sf" x="103.7" y="967.4" font-size="13.5" font-weight="bold" textLength="68.5" lengthAdjust="spacingAndGlyphs" fill="#000">ไปสี่แยกคูขวาง</text>
<text class="sf" x="155.0" y="921.8" font-size="10.9" font-weight="bold" textLength="68.7" lengthAdjust="spacingAndGlyphs" fill="#000">โรงแรมทวินโลตัส</text>
<text class="sf" x="199.8" y="896.1" font-size="10.7" font-weight="bold" textLength="72.2" lengthAdjust="spacingAndGlyphs" fill="#000">หมู่บ้านการเคหะ41</text>
<text class="sf" x="258.0" y="924.2" font-size="10.7" font-weight="bold" textLength="82.3" lengthAdjust="spacingAndGlyphs" fill="#000">โรงพยาบาลนครพัฒน์</text>
<text class="sf" x="329.7" y="940.8" font-size="10.7" font-weight="bold" textLength="30.9" lengthAdjust="spacingAndGlyphs" fill="#000">วัดคูหาย</text>
<text class="sf" x="406.8" y="972.4" font-size="14.2" font-weight="bold" textLength="100.0" lengthAdjust="spacingAndGlyphs" fill="#000">ถนนพัฒนาการคูขวาง</text>
<text class="sf" x="356.8" y="1039.9" font-size="10.9" font-weight="bold" textLength="61.9" lengthAdjust="spacingAndGlyphs" fill="#000">วิทยาลัยพยาบาล</text>
<text class="sf" x="698.7" y="948.0" font-size="13.1" font-weight="bold" textLength="65.4" lengthAdjust="spacingAndGlyphs" fill="#000">สี่แยกนาหลวง</text>
<text class="sf" x="704.2" y="995.0" font-size="14" font-weight="bold" textLength="68.1" lengthAdjust="spacingAndGlyphs" fill="#000">ไปบ้านบางเตย</text>
<text class="sf" transform="translate(697.2 1070.5) rotate(-108.7)" x="0" y="0" font-size="11.8" font-weight="bold" textLength="81.9" lengthAdjust="spacingAndGlyphs" fill="#000">ไปสี่แยกตลาดหัวอิฐ</text>
<path d="M772.1,950.6 H689.5 L679.6,967.6" fill="none" stroke="#111" stroke-width="0.9"/><path d="M678.2,970.6 L679,963.2 L684,966.2 Z" fill="#111"/>
</svg>
</body></html>
